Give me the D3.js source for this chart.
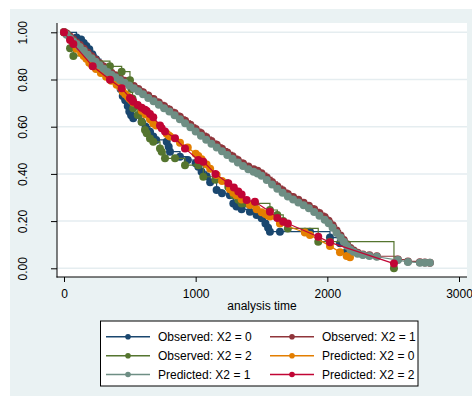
<!DOCTYPE html>
<html><head><meta charset="utf-8">
<script src="https://cdn.jsdelivr.net/npm/d3@7"></script>
<style>body{margin:0;background:#fff} svg{display:block} text{font-family:"Liberation Sans",Arial,sans-serif;}</style>
</head><body>
<svg id="chart" width="472" height="401"></svg>
<script>
// Group X2 = 0: event times, Kaplan-Meier and Cox-predicted survival
const times0 = [0,95,130,150,170,192,215,243,280,320,360,400,430,446,465,484,496,510,526,590,620,653,678,700,780,795,805,881,940,1000,1020,1045,1083,1110,1159,1200,1260,1286,1310,1349,1412,1463,1501,1530,1550,1564,1640,1830,1868,2020,2096,2147,2172];
const observed0 = [1.000,0.978,0.970,0.955,0.942,0.928,0.907,0.886,0.862,0.838,0.815,0.790,0.760,0.730,0.712,0.688,0.664,0.648,0.636,0.621,0.600,0.579,0.558,0.544,0.536,0.515,0.494,0.473,0.459,0.445,0.430,0.409,0.390,0.365,0.332,0.318,0.310,0.275,0.262,0.250,0.240,0.226,0.212,0.190,0.172,0.155,0.155,0.155,0.155,0.130,0.106,0.070,0.070];
const predicted0 = [1.000,0.930,0.912,0.900,0.888,0.871,0.858,0.845,0.828,0.812,0.795,0.778,0.765,0.748,0.738,0.728,0.720,0.712,0.703,0.668,0.652,0.632,0.614,0.605,0.570,0.563,0.558,0.532,0.512,0.485,0.476,0.462,0.440,0.422,0.395,0.370,0.335,0.320,0.310,0.292,0.268,0.250,0.238,0.230,0.224,0.219,0.190,0.152,0.141,0.095,0.068,0.052,0.047];

// Group X2 = 1
const times1 = [0,20,45,70,95,120,150,180,210,240,270,300,330,360,390,425,460,495,530,565,600,640,680,720,760,800,840,880,920,960,1000,1040,1080,1120,1160,1200,1240,1280,1320,1360,1400,1440,1470,1500,1540,1580,1620,1660,1700,1740,1780,1820,1860,1900,1940,1980,2010,2040,2070,2100,2125,2150,2175,2200,2230,2270,2320,2376,2536,2612,2703,2741,2779];
const observed1 = [1.000,0.995,0.982,0.970,0.957,0.946,0.930,0.913,0.898,0.884,0.869,0.855,0.841,0.829,0.818,0.806,0.795,0.784,0.772,0.760,0.746,0.732,0.717,0.703,0.688,0.673,0.658,0.642,0.625,0.608,0.590,0.573,0.556,0.539,0.523,0.507,0.491,0.475,0.459,0.444,0.431,0.420,0.413,0.403,0.385,0.366,0.348,0.331,0.315,0.302,0.290,0.278,0.265,0.250,0.234,0.217,0.201,0.182,0.160,0.139,0.120,0.102,0.086,0.075,0.066,0.059,0.055,0.051,0.037,0.029,0.026,0.025,0.024];
const predicted1 = [1.000,0.990,0.975,0.962,0.950,0.938,0.922,0.905,0.890,0.875,0.860,0.846,0.832,0.820,0.810,0.798,0.786,0.775,0.763,0.750,0.737,0.722,0.708,0.693,0.678,0.664,0.648,0.632,0.615,0.598,0.580,0.562,0.545,0.528,0.512,0.496,0.480,0.464,0.448,0.433,0.420,0.409,0.402,0.392,0.374,0.355,0.337,0.320,0.304,0.291,0.279,0.267,0.254,0.239,0.223,0.206,0.191,0.172,0.150,0.130,0.112,0.095,0.080,0.070,0.062,0.056,0.052,0.049,0.035,0.027,0.024,0.024,0.024];

// Group X2 = 2
const times2 = [0,46,71,218,349,438,501,512,520,526,560,590,615,628,653,678,729,742,767,843,919,1020,1058,1150,1248,1290,1324,1349,1387,1450,1564,1620,1665,1700,1931,2020,2506];
const observed2 = [1.000,0.932,0.900,0.878,0.856,0.833,0.797,0.760,0.720,0.678,0.650,0.620,0.586,0.572,0.550,0.536,0.508,0.494,0.466,0.466,0.437,0.437,0.388,0.375,0.345,0.310,0.290,0.275,0.275,0.275,0.247,0.226,0.200,0.169,0.113,0.113,0.000];
const predicted2 = [1.000,0.967,0.950,0.856,0.799,0.763,0.722,0.716,0.711,0.706,0.692,0.680,0.672,0.666,0.654,0.640,0.605,0.593,0.580,0.551,0.508,0.459,0.452,0.400,0.360,0.342,0.325,0.313,0.289,0.282,0.240,0.213,0.197,0.190,0.134,0.110,0.020];

const xTicks = [0, 1000, 2000, 3000];
const yTicks = [0, 0.2, 0.4, 0.6, 0.8, 1.0];
const seriesLabels = ["Observed: X2 = 0", "Observed: X2 = 1", "Observed: X2 = 2",
                      "Predicted: X2 = 0", "Predicted: X2 = 1", "Predicted: X2 = 2"];
const seriesColors = ["#1a476f", "#90353b", "#55752f", "#e37e00", "#6e8e84", "#c10534"];

const series = [
  {t: times0, s: observed0, step: true},
  {t: times1, s: observed1, step: true},
  {t: times2, s: observed2, step: true},
  {t: times0, s: predicted0, step: false},
  {t: times1, s: predicted1, step: false},
  {t: times2, s: predicted2, step: false}
].map((d, i) => ({...d, label: seriesLabels[i], color: seriesColors[i],
                  pts: d.t.map((t, j) => [t, d.s[j]])}));

const svg = d3.select("#chart");

// graph background and plot region
svg.append("rect").attr("x", 10).attr("y", 9).attr("width", 462).attr("height", 387).attr("fill", "#eaf2f3");
svg.append("rect").attr("x", 57).attr("y", 23).attr("width", 410).attr("height", 254).attr("fill", "#ffffff");

const x = d3.scaleLinear().domain([0, 3000]).range([64, 459]);
const y = d3.scaleLinear().domain([0, 1]).range([268.3, 32.3]);

// horizontal grid
svg.append("g").selectAll("line").data(yTicks).join("line")
  .attr("x1", 57).attr("x2", 467)
  .attr("y1", d => y(d)).attr("y2", d => y(d))
  .attr("stroke", "#e5edf0").attr("stroke-width", 1.5);

// y axis
const yAxis = svg.append("g").attr("transform", "translate(57,0)")
  .call(d3.axisLeft(y).tickValues(yTicks).tickSize(6).tickFormat(d3.format(".2f")));
yAxis.select(".domain").remove();
yAxis.selectAll(".tick line").attr("stroke", "#000");
yAxis.selectAll(".tick text")
  .attr("x", 0).attr("y", -30).attr("dy", 0)
  .attr("text-anchor", "middle").attr("transform", "rotate(-90)")
  .attr("fill", "#000").style("font-size", "12px")
  .style("font-family", '"Liberation Sans", Arial, sans-serif');
svg.append("line").attr("x1", 57).attr("x2", 57).attr("y1", 23).attr("y2", 277.5)
  .attr("stroke", "#000").attr("stroke-width", 1);

// x axis
const xAxis = svg.append("g").attr("transform", "translate(0,277)")
  .call(d3.axisBottom(x).tickValues(xTicks).tickSize(5).tickFormat(d3.format("d")));
xAxis.select(".domain").remove();
xAxis.selectAll(".tick line").attr("stroke", "#000");
xAxis.selectAll(".tick text").attr("y", 21).attr("dy", 0)
  .attr("fill", "#000").style("font-size", "12px")
  .style("font-family", '"Liberation Sans", Arial, sans-serif');
svg.append("line").attr("x1", 56.5).attr("x2", 467).attr("y1", 277).attr("y2", 277)
  .attr("stroke", "#000").attr("stroke-width", 1);

svg.append("text").attr("x", 262).attr("y", 310).attr("text-anchor", "middle")
  .style("font-size", "12px").attr("fill", "#000").text("analysis time");

// survival curves: observed as steps, predicted as connected lines
const g = svg.append("g");
series.forEach(sr => {
  const line = d3.line().x(d => x(d[0])).y(d => y(d[1]))
    .curve(sr.step ? d3.curveStepAfter : d3.curveLinear);
  g.append("path").datum(sr.pts).attr("d", line)
    .attr("fill", "none").attr("stroke", sr.color).attr("stroke-width", 1.2);
  g.append("g").selectAll("circle").data(sr.pts).join("circle")
    .attr("cx", d => x(d[0])).attr("cy", d => y(d[1])).attr("r", 4)
    .attr("fill", sr.color);
});

// legend
const lg = svg.append("g");
lg.append("rect").attr("x", 100.5).attr("y", 321).attr("width", 317.5).attr("height", 65)
  .attr("fill", "#fff").attr("stroke", "#000").attr("stroke-width", 1);
const colX = [106, 270];
const rowY = [336.7, 355.7, 374.5];
series.forEach((sr, i) => {
  const cx = colX[i % 2], cy = rowY[Math.floor(i / 2)];
  lg.append("line").attr("x1", cx).attr("x2", cx + 44).attr("y1", cy).attr("y2", cy)
    .attr("stroke", sr.color).attr("stroke-width", 1.6);
  lg.append("circle").attr("cx", cx + 22).attr("cy", cy).attr("r", 2.8).attr("fill", sr.color);
  lg.append("text").attr("x", cx + 52).attr("y", cy).attr("dy", "0.36em")
    .style("font-size", "12px").attr("fill", "#000").text(sr.label);
});
</script>
</body></html>
